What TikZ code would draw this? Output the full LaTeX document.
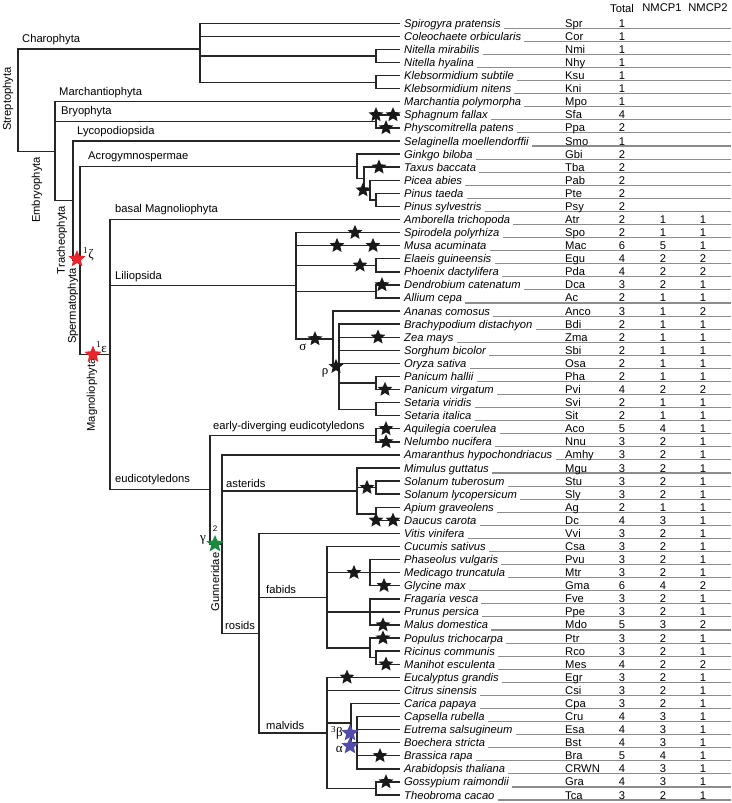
\documentclass[tikz,border=0pt]{standalone}
\usepackage{fontspec}
\setmainfont{Liberation Sans}
\newfontfamily\grk{Liberation Serif}
\usetikzlibrary{shapes.geometric}

\definecolor{wgdred}{RGB}{232,36,44}
\definecolor{wgdgreen}{RGB}{28,138,62}
\definecolor{wgdblue}{RGB}{82,76,172}

\tikzset{
  branch/.style={line width=1.4pt, draw=black!85},
  rowline/.style={line width=1.1pt, draw=black!45},
  txt/.style={font=\fontsize{11.2}{13}\selectfont, inner sep=0pt},
  clade/.style={txt, anchor=south west},
  greek/.style={font=\fontsize{13}{14}\selectfont\grk, inner sep=0pt},
  evstar/.style={star, star points=5, star point ratio=2.2, fill=#1, draw=none,
    minimum size=15.5pt, inner sep=0pt},
  evstar/.default=black!90,
  wgd/.style={evstar=#1, minimum size=18pt},
}

\begin{document}
\begin{tikzpicture}[x=1pt, y=-1pt]
    \useasboundingbox (0,0) rectangle (731,803);

    % column heads
    \node[txt] (hTotal) at (622,8) {Total};
    \node[txt] (hNa) at (662,8) {NMCP1};
    \node[txt] (hNb) at (708,8) {NMCP2};

    % leaves: species / code / total / NMCP1 / NMCP2
    \foreach \name/\abbr/\tot/\na/\nb [count=\i, evaluate=\i as \y using 23.3+(\i-1)*13.08] in {
        Spirogyra pratensis/Spr/1/{}/{},
        Coleochaete orbicularis/Cor/1/{}/{},
        Nitella mirabilis/Nmi/1/{}/{},
        Nitella hyalina/Nhy/1/{}/{},
        Klebsormidium subtile/Ksu/1/{}/{},
        Klebsormidium nitens/Kni/1/{}/{},
        Marchantia polymorpha/Mpo/1/{}/{},
        Sphagnum fallax/Sfa/4/{}/{},
        Physcomitrella patens/Ppa/2/{}/{},
        Selaginella moellendorffii/Smo/1/{}/{},
        Ginkgo biloba/Gbi/2/{}/{},
        Taxus baccata/Tba/2/{}/{},
        Picea abies/Pab/2/{}/{},
        Pinus taeda/Pte/2/{}/{},
        Pinus sylvestris/Psy/2/{}/{},
        Amborella trichopoda/Atr/2/1/1,
        Spirodela polyrhiza/Spo/2/1/1,
        Musa acuminata/Mac/6/5/1,
        Elaeis guineensis/Egu/4/2/2,
        Phoenix dactylifera/Pda/4/2/2,
        Dendrobium catenatum/Dca/3/2/1,
        Allium cepa/Ac/2/1/1,
        Ananas comosus/Anco/3/1/2,
        Brachypodium distachyon/Bdi/2/1/1,
        Zea mays/Zma/2/1/1,
        Sorghum bicolor/Sbi/2/1/1,
        Oryza sativa/Osa/2/1/1,
        Panicum hallii/Pha/2/1/1,
        Panicum virgatum/Pvi/4/2/2,
        Setaria viridis/Svi/2/1/1,
        Setaria italica/Sit/2/1/1,
        Aquilegia coerulea/Aco/5/4/1,
        Nelumbo nucifera/Nnu/3/2/1,
        Amaranthus hypochondriacus/Amhy/3/2/1,
        Mimulus guttatus/Mgu/3/2/1,
        Solanum tuberosum/Stu/3/2/1,
        Solanum lycopersicum/Sly/3/2/1,
        Apium graveolens/Ag/2/1/1,
        Daucus carota/Dc/4/3/1,
        Vitis vinifera/Vvi/3/2/1,
        Cucumis sativus/Csa/3/2/1,
        Phaseolus vulgaris/Pvu/3/2/1,
        Medicago truncatula/Mtr/3/2/1,
        Glycine max/Gma/6/4/2,
        Fragaria vesca/Fve/3/2/1,
        Prunus persica/Ppe/3/2/1,
        Malus domestica/Mdo/5/3/2,
        Populus trichocarpa/Ptr/3/2/1,
        Ricinus communis/Rco/3/2/1,
        Manihot esculenta/Mes/4/2/2,
        Eucalyptus grandis/Egr/3/2/1,
        Citrus sinensis/Csi/3/2/1,
        Carica papaya/Cpa/3/2/1,
        Capsella rubella/Cru/4/3/1,
        Eutrema salsugineum/Esa/4/3/1,
        Boechera stricta/Bst/4/3/1,
        Brassica rapa/Bra/5/4/1,
        Arabidopsis thaliana/CRWN/4/3/1,
        Gossypium raimondii/Gra/4/3/1,
        Theobroma cacao/Tca/3/2/1}
    {
        \coordinate (t\i) at (400,\y);
        \node[txt, anchor=base west, font=\fontsize{11.2}{13}\selectfont\itshape] (sp\i) at (404,\y+4) {\name};
        \draw[rowline] ([xshift=3pt, yshift=-1pt]sp\i.base east) -- (731,\y+5);
        \node[txt, anchor=base west] (ab\i) at (565,\y+4) {\abbr};
        \node[txt, anchor=base] (tot\i) at (622,\y+4) {\tot};
        \node[txt, anchor=base] (na\i) at (663,\y+4) {\na};
        \node[txt, anchor=base] (nb\i) at (703,\y+4) {\nb};
    }

    % internal nodes
    \coordinate (root) at (18,100.2);
    \coordinate (charo) at (200,49);
    \coordinate (nit) at (376,56);
    \coordinate (kle) at (376,82.2);
    \coordinate (embryo) at (55,151.3);
    \coordinate (bryo) at (376,121.4);
    \coordinate (trach) at (73,200.7);
    \coordinate (sperm) at (80,260.5);
    \coordinate (acro) at (357,166.4);
    \coordinate (gymb) at (364,178.6);
    \coordinate (pina) at (370,190.1);
    \coordinate (pinus) at (376,199.9);
    \coordinate (magno) at (110,354.6);
    \coordinate (lili) at (296,285.7);
    \coordinate (egpd) at (376,265.3);
    \coordinate (dcac) at (376,291.4);
    \coordinate (sigma) at (333,338.9);
    \coordinate (rho) at (339,366.6);
    \coordinate (pan) at (376,383);
    \coordinate (seta) at (376,409.2);
    \coordinate (eudi) at (210,489.7);
    \coordinate (edeu) at (376,435.3);
    \coordinate (gunn) at (222,544);
    \coordinate (aster) at (357,490.9);
    \coordinate (stsl) at (376,487.6);
    \coordinate (agdc) at (376,513.8);
    \coordinate (rosid) at (259,633.2);
    \coordinate (fabid) at (327,597.2);
    \coordinate (legu) at (370,572.7);
    \coordinate (rosa) at (370,611.9);
    \coordinate (malp) at (370,647.9);
    \coordinate (rcme) at (376,657.7);
    \coordinate (malvid) at (327,732.9);
    \coordinate (brsl) at (351,723.1);
    \coordinate (brass) at (357,742.7);
    \coordinate (grtc) at (376,788.5);

    % branches
    \foreach \p/\cs in {root/{charo,embryo}, charo/{t1,t2,nit,kle}, nit/{t3,t4}, kle/{t5,t6},
        embryo/{t7,bryo,trach}, bryo/{t8,t9}, trach/{t10,sperm}, sperm/{acro,magno},
        acro/{t11,gymb}, gymb/{t12,pina}, pina/{t13,pinus}, pinus/{t14,t15},
        magno/{t16,lili,eudi}, lili/{t17,t18,egpd,dcac,sigma}, egpd/{t19,t20}, dcac/{t21,t22},
        sigma/{t23,rho}, rho/{t24,t25,t26,t27,pan,seta}, pan/{t28,t29}, seta/{t30,t31},
        eudi/{edeu,gunn}, edeu/{t32,t33}, gunn/{t34,aster,rosid},
        aster/{t35,stsl,agdc}, stsl/{t36,t37}, agdc/{t38,t39},
        rosid/{t40,fabid,malvid}, fabid/{t41,legu,rosa,malp}, legu/{t42,t43,t44},
        rosa/{t45,t46,t47}, malp/{t48,rcme}, rcme/{t49,t50},
        malvid/{t51,t52,brsl,grtc}, brsl/{t53,brass}, brass/{t54,t55,t56,t57,t58}, grtc/{t59,t60}}
        \foreach \c in \cs
            \draw[branch] (\p) |- (\c);

    % clade names
    \node[clade] (lCharo) at (22,45) {Charophyta};
    \node[clade] (lMarch) at (59,98) {Marchantiophyta};
    \node[clade] (lBryo) at (61,117) {Bryophyta};
    \node[clade] (lLyco) at (77,137) {Lycopodiopsida};
    \node[clade] (lAcro) at (88,162) {Acrogymnospermae};
    \node[clade] (lBasal) at (115,215.5) {basal Magnoliophyta};
    \node[clade] (lLili) at (115,282) {Liliopsida};
    \node[clade] (lEdeu) at (213,432) {early-diverging eudicotyledons};
    \node[clade] (lEudi) at (115,485) {eudicotyledons};
    \node[clade] (lAster) at (226,487.5) {asterids};
    \node[clade] (lFabid) at (266,594) {fabids};
    \node[clade] (lRosid) at (225,629.5) {rosids};
    \node[clade] (lMalvid) at (266,730) {malvids};
    \node[txt, rotate=90] (lStrep) at (8,99) {Streptophyta};
    \node[txt, rotate=90] (lEmbryo) at (37,190) {Embryophyta};
    \node[txt, rotate=90] (lTrach) at (62,240) {Tracheophyta};
    \node[txt, rotate=90] (lSperm) at (73,306) {Spermatophyta};
    \node[txt, rotate=90] (lMagno) at (92,395) {Magnoliophyta};
    \node[txt, rotate=90] (lGunn) at (215,582) {Gunneridae};

    % duplication events
    \node[evstar] (sSfaA) at (376,114.9) {};
    \node[evstar] (sSfaB) at (393,114.9) {};
    \node[evstar] (sPpa) at (386,127.9) {};
    \node[evstar] (sTba) at (379,167.2) {};
    \node[evstar] (sPina) at (363,190.1) {};
    \node[evstar] (sSpo) at (355,232.6) {};
    \node[evstar] (sMacA) at (337,245.7) {};
    \node[evstar] (sMacB) at (373,245.7) {};
    \node[evstar] (sEgpd) at (360,265.3) {};
    \node[evstar] (sDca) at (382,284.9) {};
    \node[evstar] (sSigma) at (315,338.9) {};
    \node[evstar] (sRho) at (336,366.6) {};
    \node[evstar] (sZma) at (378,337.2) {};
    \node[evstar] (sPvi) at (385,389.5) {};
    \node[evstar] (sAco) at (386,428.8) {};
    \node[evstar] (sNnu) at (386,441.9) {};
    \node[evstar] (sStsl) at (367,487.6) {};
    \node[evstar] (sDcA) at (376,520.3) {};
    \node[evstar] (sDcB) at (393,520.3) {};
    \node[evstar] (sLegu) at (354,572.7) {};
    \node[evstar] (sGma) at (384,585.7) {};
    \node[evstar] (sMdo) at (383,625) {};
    \node[evstar] (sPtr) at (383,638.1) {};
    \node[evstar] (sMes) at (386,664.2) {};
    \node[evstar] (sEgr) at (347,677.3) {};
    \node[evstar] (sBra) at (380,755.8) {};
    \node[evstar] (sGra) at (386,781.9) {};
    \node[wgd=wgdred] (sZeta) at (77,259) {};
    \node[wgd=wgdred] (sEps) at (93,354.6) {};
    \node[wgd=wgdgreen] (sGamma) at (215,544) {};
    \node[wgd=wgdblue] (sBeta) at (350,733) {};
    \node[wgd=wgdblue] (sAlpha) at (350,746) {};

    \node[greek, anchor=west] (lZeta) at (83,254) {\textsuperscript{1}ζ};
    \node[greek, anchor=west] (lEps) at (96,347) {\textsuperscript{1}ε};
    \node[greek, anchor=east] (lGamma) at (206,540) {γ};
    \node[txt, font=\fontsize{8}{9}\selectfont] (lTwo) at (215,529) {2};
    \node[greek, anchor=east] (lBeta) at (343,733) {\textsuperscript{3}β};
    \node[greek, anchor=east] (lAlpha) at (343,749) {α};
    \node[greek] (lSigma) at (303,347) {σ};
    \node[greek] (lRho) at (325,373) {ρ};
\end{tikzpicture}
\end{document}
